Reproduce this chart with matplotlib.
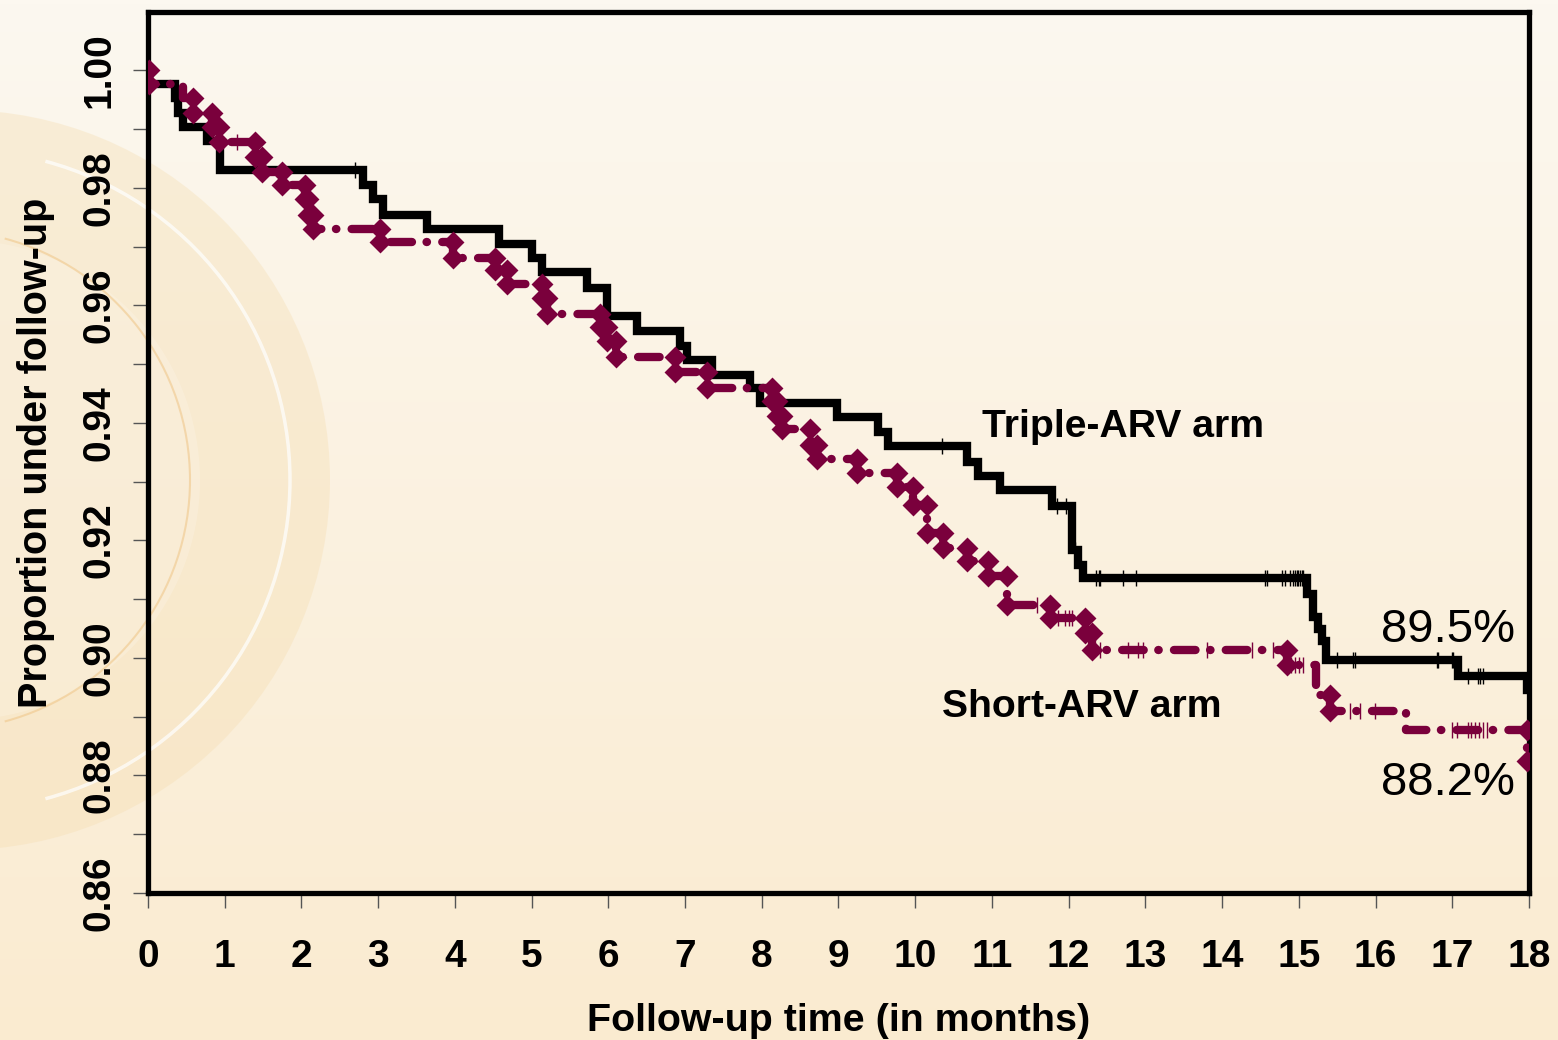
import numpy as np
import matplotlib
matplotlib.use("Agg")
import matplotlib.pyplot as plt
from matplotlib.patches import Circle, Arc

# ---------------- data ----------------
triple_times = [0.01, 0.35, 0.39, 0.46, 0.77, 0.94, 2.80, 2.93, 3.06, 3.64, 4.58, 5.00, 5.13,
                5.72, 5.98, 6.37, 6.93, 7.02, 7.35, 7.85, 7.98, 8.98, 9.52, 9.65, 10.67, 10.82,
                11.10, 11.78, 12.04, 12.12, 12.19, 15.10, 15.19, 15.25, 15.30, 15.36, 17.08, 17.98]
triple_surv = [0.9976, 0.9952, 0.9928, 0.9904, 0.9880, 0.9830, 0.9805, 0.9780, 0.9754, 0.9729,
               0.9705, 0.9681, 0.9656, 0.9630, 0.9581, 0.9556, 0.9531, 0.9507, 0.9481, 0.9460,
               0.9434, 0.9410, 0.9385, 0.9360, 0.9334, 0.9310, 0.9285, 0.9259, 0.9183, 0.9158,
               0.9136, 0.9108, 0.9070, 0.9050, 0.9029, 0.8997, 0.8970, 0.8946]
triple_censor = [2.70, 10.35, 11.85, 11.96, 12.08, 12.15, 12.36, 12.39, 12.41, 12.71, 12.88,
                 14.56, 14.59, 14.78, 14.82, 14.88, 14.92, 14.95, 14.97, 14.99, 15.02, 15.04,
                 15.06, 15.50, 15.71, 15.73, 16.80, 16.82, 16.99, 17.01, 17.20, 17.34, 17.36, 17.40]

short_times = [0.01, 0.45, 0.59, 0.83, 0.92, 1.39, 1.48, 1.75, 2.05, 2.08, 2.15, 3.02, 3.98,
               4.52, 4.68, 5.13, 5.20, 5.89, 5.98, 6.10, 6.87, 7.29, 8.13, 8.20, 8.26, 8.63,
               8.72, 9.24, 9.76, 9.97, 10.15, 10.36, 10.67, 10.95, 11.20, 11.76, 12.21, 12.30,
               14.84, 15.23, 15.40, 16.40, 17.98]
short_surv = [0.9976, 0.9952, 0.9927, 0.9903, 0.9878, 0.9853, 0.9827, 0.9805, 0.9780, 0.9754,
              0.9730, 0.9707, 0.9681, 0.9660, 0.9636, 0.9612, 0.9585, 0.9563, 0.9540, 0.9512,
              0.9486, 0.9460, 0.9437, 0.9412, 0.9390, 0.9363, 0.9339, 0.9314, 0.9290, 0.9260,
              0.9213, 0.9187, 0.9165, 0.9140, 0.9090, 0.9068, 0.9042, 0.9014, 0.8988, 0.8937,
              0.8910, 0.8877, 0.8825]
short_unmarked = [0.45, 15.23, 16.40]
short_censor = [1.16, 11.59, 11.86, 11.95, 12.00, 12.04, 12.41, 12.77, 12.90, 12.97, 13.80,
                14.39, 14.66, 14.90, 14.95, 15.00, 15.05, 15.67, 15.80, 15.99, 17.00, 17.06,
                17.20, 17.25, 17.30, 17.35, 17.40, 17.45]

x_ticks = list(range(0, 19))
y_ticks = [0.86, 0.88, 0.90, 0.92, 0.94, 0.96, 0.98, 1.00]
y_minor = [0.87, 0.89, 0.91, 0.93, 0.95, 0.97, 0.99]

labels = ["Triple-ARV arm", "Short-ARV arm"]
end_labels = ["89.5%", "88.2%"]

BLACK = "#000000"
MAROON = "#7a003c"

plt.rcParams["font.family"] = ["Liberation Sans", "DejaVu Sans"]
plt.rcParams["lines.scale_dashes"] = False

W, H = 1558, 1040
fig = plt.figure(figsize=(W / 100, H / 100), dpi=100)

# ---------------- background ----------------
bg = fig.add_axes([0, 0, 1, 1], zorder=-10)
bg.set_xlim(0, W)
bg.set_ylim(H, 0)
bg.axis("off")
top = np.array([252, 248, 240]) / 255
bot = np.array([250, 235, 208]) / 255
t = np.linspace(0, 1, 256)[:, None]
grad = top[None, :] * (1 - t) + bot[None, :] * t
bg.imshow(grad[:, None, :].repeat(2, axis=1), extent=[0, W, H, 0], aspect="auto", zorder=0)
bg.add_patch(Circle((-40, 480), 370, facecolor="#f5dcae", edgecolor="none", alpha=0.35, zorder=1))
bg.add_patch(Circle((-40, 480), 240, facecolor="#fdf6ea", edgecolor="none", alpha=0.30, zorder=1))
bg.add_patch(Arc((-40, 480), 2 * 330, 2 * 330, theta1=-75, theta2=75, color="white", lw=2.5, alpha=0.7, zorder=2))
bg.add_patch(Arc((-60, 480), 2 * 250, 2 * 250, theta1=-75, theta2=75, color="#f0c88c", lw=1.5, alpha=0.6, zorder=2))

# ---------------- main axes ----------------
ax = fig.add_axes([148 / W, 1 - 893 / H, (1529 - 148) / W, (893 - 12) / H])
ax.set_facecolor("none")


def step_xy(times, surv):
    xs = [0.0] + list(times) + [18.0]
    ys = [1.0] + list(surv) + [surv[-1]]
    return xs, ys


def value_at(times, surv, tt):
    idx = np.searchsorted(np.asarray(times), np.asarray(tt), side="right") - 1
    s = np.asarray(surv)
    return np.where(idx < 0, 1.0, s[np.clip(idx, 0, None)])


# triple arm (black solid)
xs, ys = step_xy(triple_times, triple_surv)
ax.step(xs, ys, where="post", color=BLACK, lw=6.0, solid_joinstyle="miter", zorder=3)
ax.plot(triple_censor, value_at(triple_times, triple_surv, triple_censor), ls="none",
        marker="|", ms=12, mew=1.0, color=BLACK, zorder=4)

# short arm (maroon dash-dot + diamonds)
xs, ys = step_xy(short_times, short_surv)
ln, = ax.step(xs, ys, where="post", color=MAROON, lw=6.0, zorder=5)
ln.set_dashes((15.5, 10.5, 0.3, 11.0))
ln.set_dash_capstyle("round")
mx, my = [], []
prev = 1.0
for tt, ss in zip(short_times, short_surv):
    if tt not in short_unmarked:
        mx += [tt, tt]
        my += [prev, ss]
    prev = ss
ax.plot(mx, my, ls="none", marker="D", ms=9.5, mew=2.0, color=MAROON, mec=MAROON,
        zorder=6)
ax.plot(short_censor, value_at(short_times, short_surv, short_censor), ls="none",
        marker="|", ms=12, mew=1.0, color=MAROON, zorder=6)

# annotations
ax.text(10.87, 0.93757, labels[0], fontsize=28.2, fontweight="bold", ha="left", va="baseline")
ax.text(10.35, 0.88994, labels[1], fontsize=28.2, fontweight="bold", ha="left", va="baseline")
ax.text(16.07, 0.90270, end_labels[0], fontsize=34, ha="left", va="baseline")
ax.text(16.07, 0.87667, end_labels[1], fontsize=34, ha="left", va="baseline")

# axes styling
ax.set_xlim(0, 18)
ax.set_ylim(0.86, 1.0099)
ax.set_xticks(x_ticks)
ax.set_xticklabels([str(v) for v in x_ticks])
ax.set_yticks(y_ticks)
ax.set_yticklabels([f"{v:.2f}" for v in y_ticks])
ax.set_yticks(y_minor, minor=True)
for sp in ax.spines.values():
    sp.set_linewidth(3.8)
    sp.set_color(BLACK)
ax.tick_params(axis="both", which="both", direction="out", length=10.8, width=1.0, color="#555555")
ax.tick_params(axis="x", labelsize=28, pad=22)
ax.tick_params(axis="y", labelsize=28, pad=11)
for lab in ax.get_xticklabels():
    lab.set_fontweight("bold")
for lab in ax.get_yticklabels():
    lab.set_fontweight("bold")
    lab.set_rotation(90)
    lab.set_va("center")

ax.set_xlabel("Follow-up time (in months)", fontsize=28.4, fontweight="bold")
ax.set_ylabel("Proportion under follow-up", fontsize=28.5, fontweight="bold")
ax.xaxis.set_label_coords(0.5, -0.1566)
ax.xaxis.label.set_va("baseline")
ax.yaxis.set_label_coords(-0.0673, 0.5)

fig.savefig("out.png", dpi=100, facecolor=fig.get_facecolor())
